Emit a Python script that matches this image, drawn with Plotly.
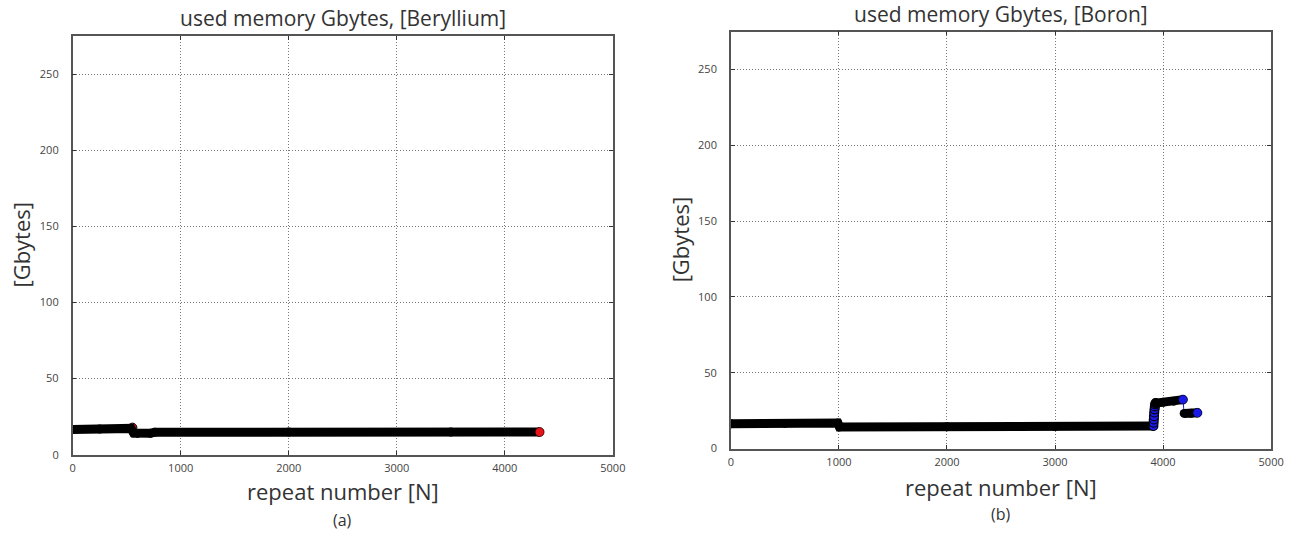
import plotly.graph_objects as go

FONT = "Open Sans"

# ---- Beryllium: used memory per repeat (GB), vertices of the trace ----
be_x = [0, 250, 540, 565, 600, 720, 760, 2000, 3500, 4322]
be_y = [16.6, 16.9, 17.3, 14.2, 14.0, 14.1, 14.8, 14.9, 14.9, 14.9]
be_step = ([553], [17.8])          # last repeat before the drop
be_last = ([4322], [14.9])         # final repeat

# ---- Boron: used memory per repeat (GB) ----
b_run1_x = [0, 500, 990, 1005, 2000, 3000, 3910]
b_run1_y = [16.4, 16.6, 16.9, 14.3, 14.4, 14.5, 14.9]
b_rise_x = [3910, 3912, 3914, 3916, 3918, 3921, 3924, 3927, 3931]
b_rise_y = [14.9, 17.1, 19.2, 21.4, 23.8, 25.9, 27.8, 29.2, 30.0]
b_run2_x = [3931, 4000, 4100, 4184]
b_run2_y = [30.0, 30.6, 31.3, 32.3]
b_run3_x = [4195, 4260, 4318]
b_run3_y = [23.2, 23.3, 23.6]
b_marks = ([4184, 4318], [32.3, 23.6])

x_ticks = [0, 1000, 2000, 3000, 4000, 5000]
y_ticks = [0, 50, 100, 150, 200, 250]

BAND = 9   # px width of the densely packed marker band

fig = go.Figure()


def add_panel(xa, ya, color, runs, under=None, rings=None, tops=None):
    all_x, all_y = [], []
    for rx, ry in runs:
        all_x += rx
        all_y += ry
    # thin connecting line through every repeat
    fig.add_trace(go.Scatter(x=all_x, y=all_y, mode="lines",
                             line=dict(color=color, width=1),
                             xaxis=xa, yaxis=ya, hoverinfo="skip"))
    if under:
        fig.add_trace(go.Scatter(x=under[0], y=under[1], mode="markers",
                                 marker=dict(size=BAND, color=color,
                                             line=dict(color="black", width=1)),
                                 xaxis=xa, yaxis=ya, hoverinfo="skip"))
    for i, (rx, ry) in enumerate(runs):
        if rings is not None and i == 1:
            fig.add_trace(go.Scatter(x=rings[0], y=rings[1], mode="markers",
                                     marker=dict(size=BAND, color=color,
                                                 line=dict(color="black", width=1.2)),
                                     xaxis=xa, yaxis=ya, hoverinfo="skip"))
        fig.add_trace(go.Scatter(x=rx, y=ry, mode="lines+markers",
                                 line=dict(color="black", width=BAND),
                                 marker=dict(size=BAND, color="black"),
                                 xaxis=xa, yaxis=ya, hoverinfo="skip"))
    if tops:
        fig.add_trace(go.Scatter(x=tops[0], y=tops[1], mode="markers",
                                 marker=dict(size=BAND, color=color,
                                             line=dict(color="black", width=0.6)),
                                 xaxis=xa, yaxis=ya, hoverinfo="skip"))


add_panel("x", "y", "#e8141a", [(be_x, be_y)], under=be_step, tops=be_last)
add_panel("x2", "y2", "#1a1ae8",
          [(b_run1_x, b_run1_y), (b_run2_x, b_run2_y), (b_run3_x, b_run3_y)],
          rings=(b_rise_x, b_rise_y), tops=b_marks)

axis_common = dict(
    showline=True, linecolor="#555", linewidth=1.5, mirror="ticks",
    ticks="inside", ticklen=4, tickcolor="#333",
    showgrid=True, gridcolor="#777", griddash="1px,2px", gridwidth=1,
    zeroline=False, tickfont=dict(family=FONT, size=11, color="#444"),
)

fig.update_layout(
    width=1294, height=539,
    margin=dict(l=0, r=0, t=0, b=0),
    paper_bgcolor="white", plot_bgcolor="white",
    showlegend=False,
    xaxis=dict(domain=[70.5 / 1294, 617.5 / 1294], range=[0, 5000],
               tickvals=x_ticks, anchor="y", ticklabelstandoff=2, **axis_common),
    yaxis=dict(domain=[1 - 460.7 / 539, 1 - 36.7 / 539], range=[0, 275],
               tickvals=y_ticks, anchor="x", ticklabelstandoff=10, **axis_common),
    xaxis2=dict(domain=[737 / 1294, 1284 / 1294], range=[0, 5000],
                tickvals=x_ticks, anchor="y2", ticklabelstandoff=2, **axis_common),
    yaxis2=dict(domain=[1 - 454.5 / 539, 1 - 32 / 539], range=[0, 275],
                tickvals=y_ticks, anchor="x2", ticklabelstandoff=10, **axis_common),
)


def label(text, x, y, size, angle=0):
    fig.add_annotation(text=text, x=x / 1294, y=1 - y / 539, xref="paper",
                       yref="paper", showarrow=False, textangle=angle,
                       xanchor="center", yanchor="middle", borderpad=0,
                       font=dict(family=FONT, size=size, color="#333"))


label("used memory Gbytes, [Beryllium]", 344, 18, 21)
label("used memory Gbytes, [Boron]", 1011, 14, 21)
label("[Gbytes]", 18, 248, 22, -90)
label("[Gbytes]", 685, 243, 22, -90)
label("repeat number [N]", 344, 497, 22)
label("repeat number [N]", 1011, 493, 22)
label("(a)", 344, 527, 16)
label("(b)", 1011, 521, 16)

fig.write_html("out.html")
